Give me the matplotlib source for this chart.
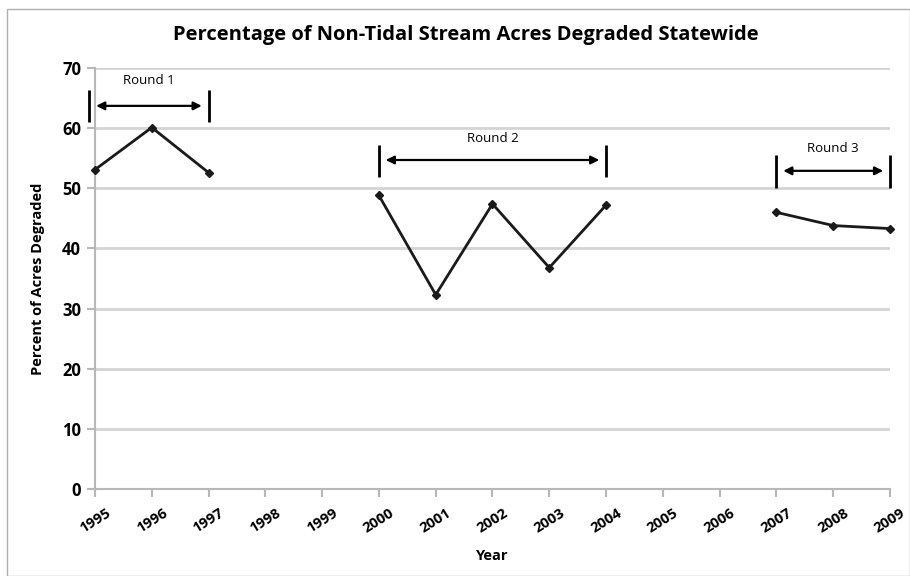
import numpy as np
import matplotlib
matplotlib.use("Agg")
import matplotlib.pyplot as plt
from matplotlib.patches import Rectangle

plt.rcParams["font.family"] = ["Open Sans", "DejaVu Sans"]

# Values
years = list(range(1995, 2010))
round1_years = [1995, 1996, 1997]
round1_pct = [53.1, 60.1, 52.6]
round2_years = [2000, 2001, 2002, 2003, 2004]
round2_pct = [48.8, 32.3, 47.4, 36.8, 47.2]
round3_years = [2007, 2008, 2009]
round3_pct = [46.0, 43.8, 43.3]

# Round brackets: (label, start, end, bar bottom, bar top, arrow y, text y)
rounds = [
    ("Round 1", 1994.9, 1997.0, 61.1, 66.4, 63.7, 67.9),
    ("Round 2", 2000.0, 2004.0, 51.9, 57.2, 54.7, 58.2),
    ("Round 3", 2007.0, 2009.0, 50.1, 55.6, 52.9, 56.6),
]

fig = plt.figure(figsize=(9.1, 5.76), dpi=100)
fig.patches.append(Rectangle((0.008, 0.0), 0.992, 0.985, transform=fig.transFigure,
                             fill=False, edgecolor="#b0b0b0", linewidth=1))
ax = fig.add_axes([0.1044, 0.151, 0.8736, 0.731])

for xs, ys in [(round1_years, round1_pct), (round2_years, round2_pct),
               (round3_years, round3_pct)]:
    ax.plot(xs, ys, color="#1a1a1a", linewidth=2, marker="D", markersize=4,
            zorder=3, clip_on=False)

for label, x0, x1, yb, yt, ya, yt_txt in rounds:
    ax.vlines([x0, x1], yb, yt, color="black", linewidth=2, zorder=4,
              clip_on=False)
    ax.annotate("", xy=(x1 - 0.12, ya), xytext=(x0 + 0.12, ya),
                arrowprops=dict(arrowstyle="<|-|>", color="black", lw=1.6,
                                mutation_scale=12, shrinkA=0, shrinkB=0))
    ax.text((x0 + x1) / 2, yt_txt, label, ha="center", va="center", fontsize=9.5)

ax.set_xlim(1995, 2009)
ax.set_ylim(0, 70)
ax.set_xticks(years)
ax.set_xticklabels([str(y) for y in years], rotation=32, fontweight="bold",
                   fontsize=10.5)
ax.set_yticks(range(0, 71, 10))
ax.set_yticklabels([str(v) for v in range(0, 71, 10)], fontweight="bold",
                   fontsize=12)
ax.grid(axis="y", color="#d4d4d4", linewidth=2)
ax.set_axisbelow(True)
for side in ["top", "right"]:
    ax.spines[side].set_visible(False)
for side in ["left", "bottom"]:
    ax.spines[side].set_color("#b8b8b8")
    ax.spines[side].set_linewidth(1.5)
ax.tick_params(axis="y", length=6, color="#b8b8b8", width=1.5, pad=4)
ax.tick_params(axis="x", length=6, color="#b8b8b8", width=1.5, pad=6)

fig.text(0.512, 0.94, "Percentage of Non-Tidal Stream Acres Degraded Statewide",
         fontsize=14.5, fontweight="bold", ha="center", va="center")
ax.set_xlabel("Year", fontsize=10.5, fontweight="bold", labelpad=10)
ax.set_ylabel("Percent of Acres Degraded", fontsize=10.5, fontweight="bold",
              labelpad=12)

fig.savefig("out.png", dpi=100)
